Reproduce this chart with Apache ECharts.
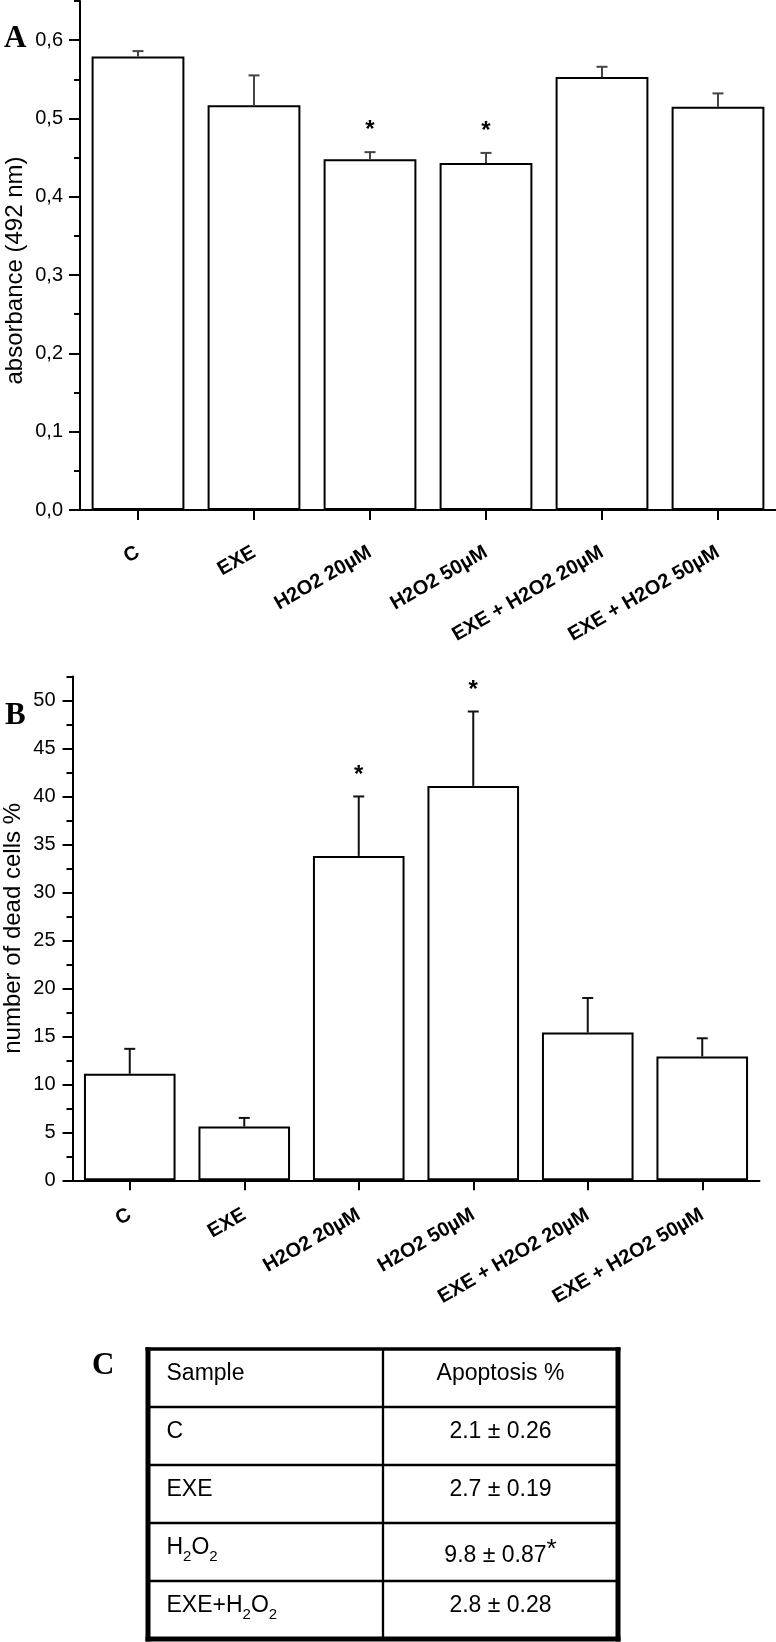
<!DOCTYPE html>
<html>
<head>
<meta charset="utf-8">
<script src="https://cdn.jsdelivr.net/npm/echarts@6/dist/echarts.min.js"></script>
<style>
html,body{margin:0;padding:0;background:#fff;}
#chart{width:776px;height:1642px;}
</style>
</head>
<body>
<div id="chart"></div>
<script>
// ---------------- data ----------------
const categories = ['C', 'EXE', 'H2O2 20µM', 'H2O2 50µM', 'EXE + H2O2 20µM', 'EXE + H2O2 50µM'];

const absorbance = [0.579, 0.517, 0.448, 0.443, 0.553, 0.515];
const absorbanceErr = [0.007, 0.038, 0.009, 0.013, 0.013, 0.017];
const absorbanceSignificant = [false, false, true, true, false, false];
const absorbanceTicks = [0, 0.1, 0.2, 0.3, 0.4, 0.5, 0.6];

const deadCells = [11.1, 5.6, 33.8, 41.1, 15.4, 12.9];
const deadCellsErr = [2.6, 0.9, 6.2, 7.75, 3.6, 1.9];
const deadCellsSignificant = [false, false, true, true, false, false];
const deadCellsTicks = [0, 5, 10, 15, 20, 25, 30, 35, 40, 45, 50];

const tableHeader = ['Sample', 'Apoptosis %'];
const tableSamples = ['C', 'EXE', 'H2O2', 'EXE+H2O2'];
const apoptosisMean = ['2.1', '2.7', '9.8', '2.8'];
const apoptosisSD = ['0.26', '0.19', '0.87', '0.28'];
const apoptosisSignificant = [false, false, true, false];

// ---------------- styling ----------------
const FONT = '"Liberation Sans", Arial, Helvetica, sans-serif';
const SERIF = '"Liberation Serif", "Times New Roman", serif';

const chart = echarts.init(document.getElementById('chart'), null, {renderer: 'canvas'});

function mkX(gi, margin) {
  return {
    type: 'category', gridIndex: gi, data: categories,
    axisLine: {show: true, onZero: false, lineStyle: {color: '#000', width: 2}},
    axisTick: {show: true, alignWithLabel: true, length: 10, lineStyle: {color: '#000', width: 2}},
    axisLabel: {interval: 0, rotate: 30, margin: margin, color: '#000', fontFamily: FONT, fontWeight: 'bold', fontSize: 20},
    splitLine: {show: false}
  };
}

function mkYMain(gi, max, interval, ticks, name, nameGap, namePad, fmt, tickLen) {
  return {
    type: 'value', gridIndex: gi, min: 0, max: max, interval: interval, position: 'left',
    axisLine: {show: true, onZero: false, lineStyle: {color: '#000', width: 2}},
    axisTick: {show: true, length: tickLen, customValues: ticks, lineStyle: {color: '#000', width: 2}},
    axisLabel: {customValues: ticks, margin: 17, color: '#000', fontFamily: FONT, fontSize: 20, formatter: fmt},
    splitLine: {show: false},
    name: name, nameLocation: 'middle', nameGap: nameGap, nameMoveOverlap: false,
    nameTextStyle: {color: '#000', fontFamily: FONT, fontSize: 24, padding: namePad}
  };
}

function mkYMinor(gi, max, interval) {
  return {
    type: 'value', gridIndex: gi, min: 0, max: max, interval: interval, position: 'left', offset: 0,
    axisLine: {show: false},
    axisTick: {show: true, length: 6, lineStyle: {color: '#000', width: 2}},
    axisLabel: {show: false},
    splitLine: {show: false}
  };
}

function barSeries(xi, yi, values) {
  return {
    type: 'bar', xAxisIndex: xi, yAxisIndex: yi, data: values, barWidth: '80%', silent: true,
    itemStyle: {color: '#fff', borderColor: '#000', borderWidth: 2}
  };
}

function errorSeries(xi, yi, values, errs, color) {
  return {
    type: 'custom', xAxisIndex: xi, yAxisIndex: yi, silent: true, z: 5,
    data: values.map((v, i) => [i, v, v + errs[i]]),
    encode: {x: 0, y: [1, 2]},
    renderItem: function (params, api) {
      const base = api.coord([api.value(0), api.value(1)]);
      const top = api.coord([api.value(0), api.value(2)]);
      return {
        type: 'group', children: [
          {type: 'line', shape: {x1: base[0], y1: base[1], x2: top[0], y2: top[1]}, style: {stroke: color, lineWidth: 2}},
          {type: 'line', shape: {x1: top[0] - 5.5, y1: top[1], x2: top[0] + 5.5, y2: top[1]}, style: {stroke: color, lineWidth: 2}}
        ]
      };
    }
  };
}

function starSeries(xi, yi, values, errs, sig) {
  return {
    type: 'custom', xAxisIndex: xi, yAxisIndex: yi, silent: true, z: 6,
    data: values.map((v, i) => [i, v + errs[i], sig[i] ? 1 : 0]),
    encode: {x: 0, y: 1},
    renderItem: function (params, api) {
      if (!api.value(2)) return null;
      const p = api.coord([api.value(0), api.value(1)]);
      return {
        type: 'text', x: p[0], y: p[1] - 21.5,
        style: {text: '*', font: 'bold 24px ' + FONT, textAlign: 'center', textVerticalAlign: 'middle', fill: '#000'}
      };
    }
  };
}

const fmtA = v => (Math.abs(v * 10 - Math.round(v * 10)) < 1e-6) ? v.toFixed(1).replace('.', ',') : '';
const fmtB = v => (Math.abs(v / 5 - Math.round(v / 5)) < 1e-6) ? String(Math.round(v)) : '';

// ---------------- table (panel C) ----------------
const T = {left: 148, right: 618, col: 383, top: 1349, rowH: 58, padL: 18.5};
const subRich = {
  s: {fontSize: 15, fontFamily: FONT, fill: '#000', padding: [18, 0, 0, 0]},
  sup: {fontSize: 26, fontFamily: FONT, fill: '#000', padding: [0, 0, 12, 0]}
};
function subscriptify(str) { return str.replace(/(\d)/g, '{s|$1}'); }

const graphics = [];
const nRows = tableSamples.length + 1;
const bottom = T.top + nRows * T.rowH;
graphics.push({type: 'line', shape: {x1: T.left - 2.5, y1: T.top, x2: T.right + 2.5, y2: T.top}, style: {stroke: '#000', lineWidth: 3.5}});
graphics.push({type: 'line', shape: {x1: T.left - 2.5, y1: bottom, x2: T.right + 2.5, y2: bottom}, style: {stroke: '#000', lineWidth: 5}});
graphics.push({type: 'line', shape: {x1: T.left, y1: T.top - 1.75, x2: T.left, y2: bottom + 2.5}, style: {stroke: '#000', lineWidth: 5}});
graphics.push({type: 'line', shape: {x1: T.right, y1: T.top - 1.75, x2: T.right, y2: bottom + 2.5}, style: {stroke: '#000', lineWidth: 5}});
graphics.push({type: 'line', shape: {x1: T.col, y1: T.top, x2: T.col, y2: bottom}, style: {stroke: '#000', lineWidth: 2.3}});
for (let r = 1; r < nRows; r++) {
  const y = T.top + r * T.rowH;
  graphics.push({type: 'line', shape: {x1: T.left, y1: y, x2: T.right, y2: y}, style: {stroke: '#000', lineWidth: 2.5}});
}
const colCenter = (T.col + T.right) / 2;
graphics.push({type: 'text', x: T.left + T.padL, y: T.top + T.rowH / 2 - 4,
  style: {text: tableHeader[0], font: '23px ' + FONT, fill: '#000', textAlign: 'left', textVerticalAlign: 'middle'}});
graphics.push({type: 'text', x: colCenter, y: T.top + T.rowH / 2 - 4,
  style: {text: tableHeader[1], font: '23px ' + FONT, fill: '#000', textAlign: 'center', textVerticalAlign: 'middle'}});
tableSamples.forEach((s, i) => {
  const cy = T.top + (i + 1.5) * T.rowH;
  graphics.push({type: 'text', x: T.left + T.padL, y: cy - 4,
    style: {text: subscriptify(s), rich: subRich, font: '23px ' + FONT, fill: '#000', textAlign: 'left', textVerticalAlign: 'middle'}});
  const val = apoptosisMean[i] + ' ± ' + apoptosisSD[i] + (apoptosisSignificant[i] ? '{sup|*}' : '');
  graphics.push({type: 'text', x: colCenter, y: cy + (apoptosisSignificant[i] ? 4 : -4),
    style: {text: val, rich: subRich, font: '23px ' + FONT, fill: '#000', textAlign: 'center', textVerticalAlign: 'middle'}});
});
[['A', 4, 39], ['B', 5, 715.5], ['C', 92, 1365.5]].forEach(([t, x, y]) => {
  graphics.push({type: 'text', x: x, y: y,
    style: {text: t, font: 'bold 31px ' + SERIF, fill: '#000', textAlign: 'left', textVerticalAlign: 'middle'}});
});

const option = {
  backgroundColor: '#fff',
  animation: false,
  grid: [
    {left: 80, top: 1, width: 696, height: 509, containLabel: false, outerBoundsMode: 'none'},
    {left: 72.5, top: 676.5, width: 687, height: 503.8, containLabel: false, outerBoundsMode: 'none'}
  ],
  xAxis: [mkX(0, 41), mkX(1, 33)],
  yAxis: [
    mkYMain(0, 0.65, 0.1, absorbanceTicks, 'absorbance (492 nm)', 53, [0, 30, 0, 0], fmtA, 11),
    mkYMinor(0, 0.65, 0.05),
    mkYMain(1, 52.5, 5, deadCellsTicks, 'number of dead cells %', 47.5, [0, 0, 0, 0], fmtB, 10),
    mkYMinor(1, 52.5, 2.5)
  ],
  series: [
    barSeries(0, 0, absorbance),
    errorSeries(0, 0, absorbance, absorbanceErr, '#444'),
    starSeries(0, 0, absorbance, absorbanceErr, absorbanceSignificant),
    barSeries(1, 2, deadCells),
    errorSeries(1, 2, deadCells, deadCellsErr, '#111'),
    starSeries(1, 2, deadCells, deadCellsErr, deadCellsSignificant)
  ],
  graphic: graphics
};
chart.setOption(option);
</script>
</body>
</html>
